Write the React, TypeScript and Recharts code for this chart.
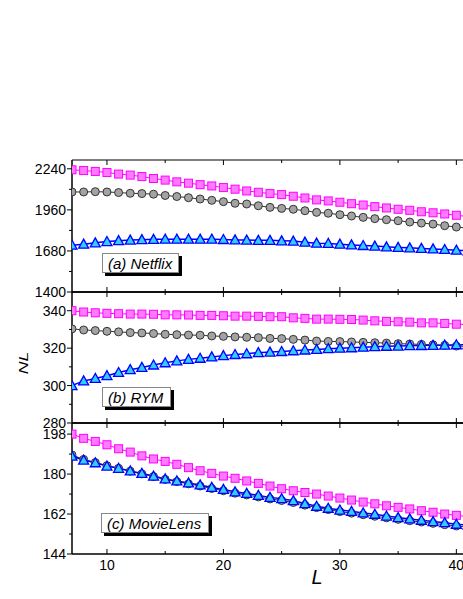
import React from 'react';
import { LineChart, Line, XAxis, YAxis, ReferenceLine } from 'recharts';

const lengths = [7, 8, 9, 10, 11, 12, 13, 14, 15, 16, 17, 18, 19, 20, 21, 22, 23, 24, 25, 26, 27, 28, 29, 30, 31, 32, 33, 34, 35, 36, 37, 38, 39, 40, 41];
const xTicks = [10, 15, 20, 25, 30, 35, 40];

// Netflix
const netflixSq = [2233, 2228, 2222, 2215, 2204, 2197, 2187, 2174, 2163, 2151, 2142, 2132, 2123, 2112, 2101, 2089, 2080, 2071, 2064, 2053, 2041, 2028, 2021, 2012, 2002, 1993, 1982, 1973, 1964, 1957, 1947, 1940, 1932, 1923, 1915];
const netflixCi = [2082, 2082, 2084, 2082, 2078, 2073, 2071, 2067, 2058, 2051, 2043, 2034, 2025, 2016, 2005, 2000, 1988, 1977, 1970, 1964, 1954, 1943, 1937, 1927, 1918, 1909, 1900, 1893, 1886, 1877, 1870, 1863, 1852, 1843, 1835];
const netflixTr = [1719, 1726, 1735, 1744, 1750, 1754, 1757, 1759, 1760, 1760, 1760, 1760, 1760, 1758, 1755, 1754, 1752, 1752, 1749, 1747, 1740, 1733, 1731, 1726, 1721, 1717, 1713, 1708, 1704, 1701, 1697, 1694, 1690, 1685, 1681];

// RYM
const rymSq = [340, 339.3, 338.9, 338.6, 338.4, 338.2, 338.2, 338.1, 337.8, 337.8, 337.7, 337.5, 337.5, 337.3, 337.1, 337.1, 337.0, 336.8, 336.8, 336.2, 335.9, 335.5, 335.5, 335.4, 335.3, 335.0, 334.6, 334.3, 334.1, 333.9, 333.5, 333.5, 333.2, 332.8, 332.6];
const rymCi = [330.3, 329.7, 329.4, 329.0, 328.7, 328.3, 328.1, 327.8, 327.4, 327.2, 327.0, 326.9, 326.5, 326.3, 326.0, 325.8, 325.6, 325.2, 325.1, 324.7, 324.3, 323.8, 323.6, 323.5, 323.3, 323.1, 322.9, 322.7, 322.4, 322.2, 322.0, 321.8, 321.5, 321.1, 320.9];
const rymTr = [300, 302.5, 303.8, 305.3, 307.0, 308.5, 309.7, 311.0, 312.2, 313.2, 314.0, 314.6, 315.3, 316.0, 316.6, 317.0, 317.6, 317.9, 318.2, 318.6, 319.0, 319.3, 319.7, 320.0, 320.2, 320.5, 320.8, 321.0, 321.1, 321.3, 321.4, 321.5, 321.6, 321.8, 321.9];

// MovieLens
const mlSq = [198, 196.1, 194.7, 193.2, 191.4, 189.9, 188.2, 186.8, 185.7, 184.4, 182.9, 181.5, 180.3, 179.1, 178.1, 176.9, 175.8, 174.6, 173.4, 172.5, 171.7, 171.0, 170.1, 169.2, 168.3, 167.4, 166.6, 165.7, 165.0, 164.3, 163.5, 162.8, 162.0, 161.4, 160.8];
const mlCi = [188.6, 186.6, 185.2, 183.8, 182.6, 181.3, 180.1, 178.9, 177.6, 176.6, 175.6, 174.6, 173.5, 172.5, 171.4, 170.6, 169.7, 168.8, 168.1, 167.2, 166.0, 164.9, 164.0, 163.1, 162.4, 161.7, 161.0, 160.3, 159.6, 159.0, 158.4, 157.8, 157.2, 156.6, 156.1];
const mlTr = [188.1, 186.3, 185.1, 183.6, 182.6, 181.4, 180.3, 179.1, 177.8, 176.9, 176.0, 175.1, 174.0, 173.1, 172.0, 171.3, 170.4, 169.5, 168.9, 168.0, 166.7, 165.5, 164.6, 163.8, 163.2, 162.5, 161.9, 161.1, 160.4, 159.8, 159.2, 158.6, 158.1, 157.4, 157.0];

const FONT = "'Liberation Sans', Arial, sans-serif";

const Square = (p: any) => {
  if (p.cx == null || p.cy == null) return null;
  return <rect x={p.cx - 4} y={p.cy - 4} width={8} height={8} fill="#ff7aff" stroke="#ff00ff" strokeWidth={1} />;
};

const Triangle = (p: any) => {
  if (p.cx == null || p.cy == null) return null;
  const { cx, cy } = p;
  return <polygon points={`${cx},${cy - 5} ${cx - 5},${cy + 4} ${cx + 5},${cy + 4}`} fill="#33ccff" stroke="#0000ff" strokeWidth={1.3} />;
};

interface PanelProps {
  top: number;
  plotH: number;
  domain: [number, number];
  major: number[];
  minor: number[];
  sq: number[];
  ci: number[];
  tr: number[];
  showX?: boolean;
  topStroke?: string;
}

function Panel({ top, plotH, domain, major, minor, sq, ci, tr, showX, topStroke }: PanelProps) {
  const data = lengths.map((l, i) => ({ L: l, sq: sq[i], ci: ci[i], tr: tr[i] }));
  const extra = showX ? 30 : 0;
  const yTicks = [...major, ...minor].sort((a, b) => a - b);

  const renderX = (props: any) => {
    const { x, payload } = props;
    const v = payload.value;
    const isMajor = v % 10 === 0;
    const len = isMajor ? 5 : 3;
    const yb = 10 + plotH;
    return (
      <g>
        <line x1={x} x2={x} y1={yb} y2={yb - len} stroke="#000" strokeWidth={1} />
        <line x1={x} x2={x} y1={10} y2={10 + len} stroke="#000" strokeWidth={1} />
        {showX && isMajor && (
          <text x={x} y={yb + 15.5} textAnchor="middle" fontSize={14} fontFamily={FONT} fill="#000">{v}</text>
        )}
      </g>
    );
  };

  const renderY = (props: any) => {
    const { y, payload } = props;
    const x = 72;
    const v = payload.value;
    const isMajor = major.includes(v);
    return (
      <g>
        <line x1={x - (isMajor ? 5 : 3)} x2={x} y1={y} y2={y} stroke="#000" strokeWidth={1} />
        {isMajor && (
          <text x={x - 6} y={y + 5} textAnchor="end" fontSize={14} fontFamily={FONT} fill="#000">{v}</text>
        )}
      </g>
    );
  };

  return (
    <div style={{ position: 'absolute', left: 0, top: top - 10 }}>
      <LineChart width={480} height={plotH + 20 + extra} data={data} margin={{ top: 10, right: 12, bottom: 9 + extra, left: 0 }}>
        <XAxis dataKey="L" type="number" domain={[7, 41]} ticks={xTicks} interval={0} height={1}
          tickSize={0} tickMargin={0} tickLine={false} tick={renderX} axisLine={{ stroke: '#000', strokeWidth: 1.3 }} allowDataOverflow />
        <YAxis type="number" domain={domain} ticks={yTicks} interval={0} width={72}
          tickSize={0} tickMargin={0} tickLine={false} tick={renderY} axisLine={{ stroke: '#000', strokeWidth: 1.5 }} allowDataOverflow />
        <ReferenceLine y={domain[1]} stroke={topStroke || '#000'} strokeWidth={1.3} />
        <Line type="linear" dataKey="sq" stroke="#ff00ff" strokeWidth={1} dot={<Square />} isAnimationActive={false} />
        <Line type="linear" dataKey="ci" stroke="#333333" strokeWidth={1} dot={{ r: 4, fill: '#a3a3a3', stroke: '#333333', strokeWidth: 1 }} isAnimationActive={false} />
        <Line type="linear" dataKey="tr" stroke="#0000ff" strokeWidth={1.5} dot={<Triangle />} isAnimationActive={false} />
      </LineChart>
    </div>
  );
}

const labelBox = (text: string, left: number, top: number, width: number) => (
  <div style={{
    position: 'absolute', left, top, width, height: 20, background: '#fff', border: '1px solid #888',
    boxShadow: '3px 3px 0 #000', fontFamily: FONT, fontStyle: 'italic', fontSize: 15, lineHeight: '20px',
    paddingLeft: 5, boxSizing: 'border-box', color: '#000', whiteSpace: 'nowrap',
  }}>{text}</div>
);

export default function App() {
  return (
    <div style={{ position: 'absolute', left: 0, top: 0, width: 463, height: 599, overflow: 'hidden', background: '#fff' }}>
      <Panel top={160} plotH={132} domain={[1400, 2300]} major={[1400, 1680, 1960, 2240]} minor={[1540, 1820, 2100]}
        sq={netflixSq} ci={netflixCi} tr={netflixTr} topStroke="#555" />
      <Panel top={292} plotH={131} domain={[280, 350]} major={[280, 300, 320, 340]} minor={[290, 310, 330]}
        sq={rymSq} ci={rymCi} tr={rymTr} />
      <Panel top={423} plotH={131} domain={[144, 203]} major={[144, 162, 180, 198]} minor={[153, 171, 189]}
        sq={mlSq} ci={mlCi} tr={mlTr} showX />
      {labelBox('(a) Netflix', 102, 253, 77)}
      {labelBox('(b) RYM', 102, 387, 69)}
      {labelBox('(c) MovieLens', 101, 513, 108)}
      <div style={{
        position: 'absolute', left: 23, top: 363, transform: 'translate(-50%, -50%) rotate(-90deg) scale(1.35, 1)',
        fontFamily: FONT, fontStyle: 'italic', fontSize: 13, color: '#000', whiteSpace: 'nowrap',
      }}>NL</div>
      <div style={{
        position: 'absolute', left: 317, top: 577, transform: 'translate(-50%, -50%)',
        fontFamily: FONT, fontStyle: 'italic', fontSize: 20, color: '#000',
      }}>L</div>
    </div>
  );
}
